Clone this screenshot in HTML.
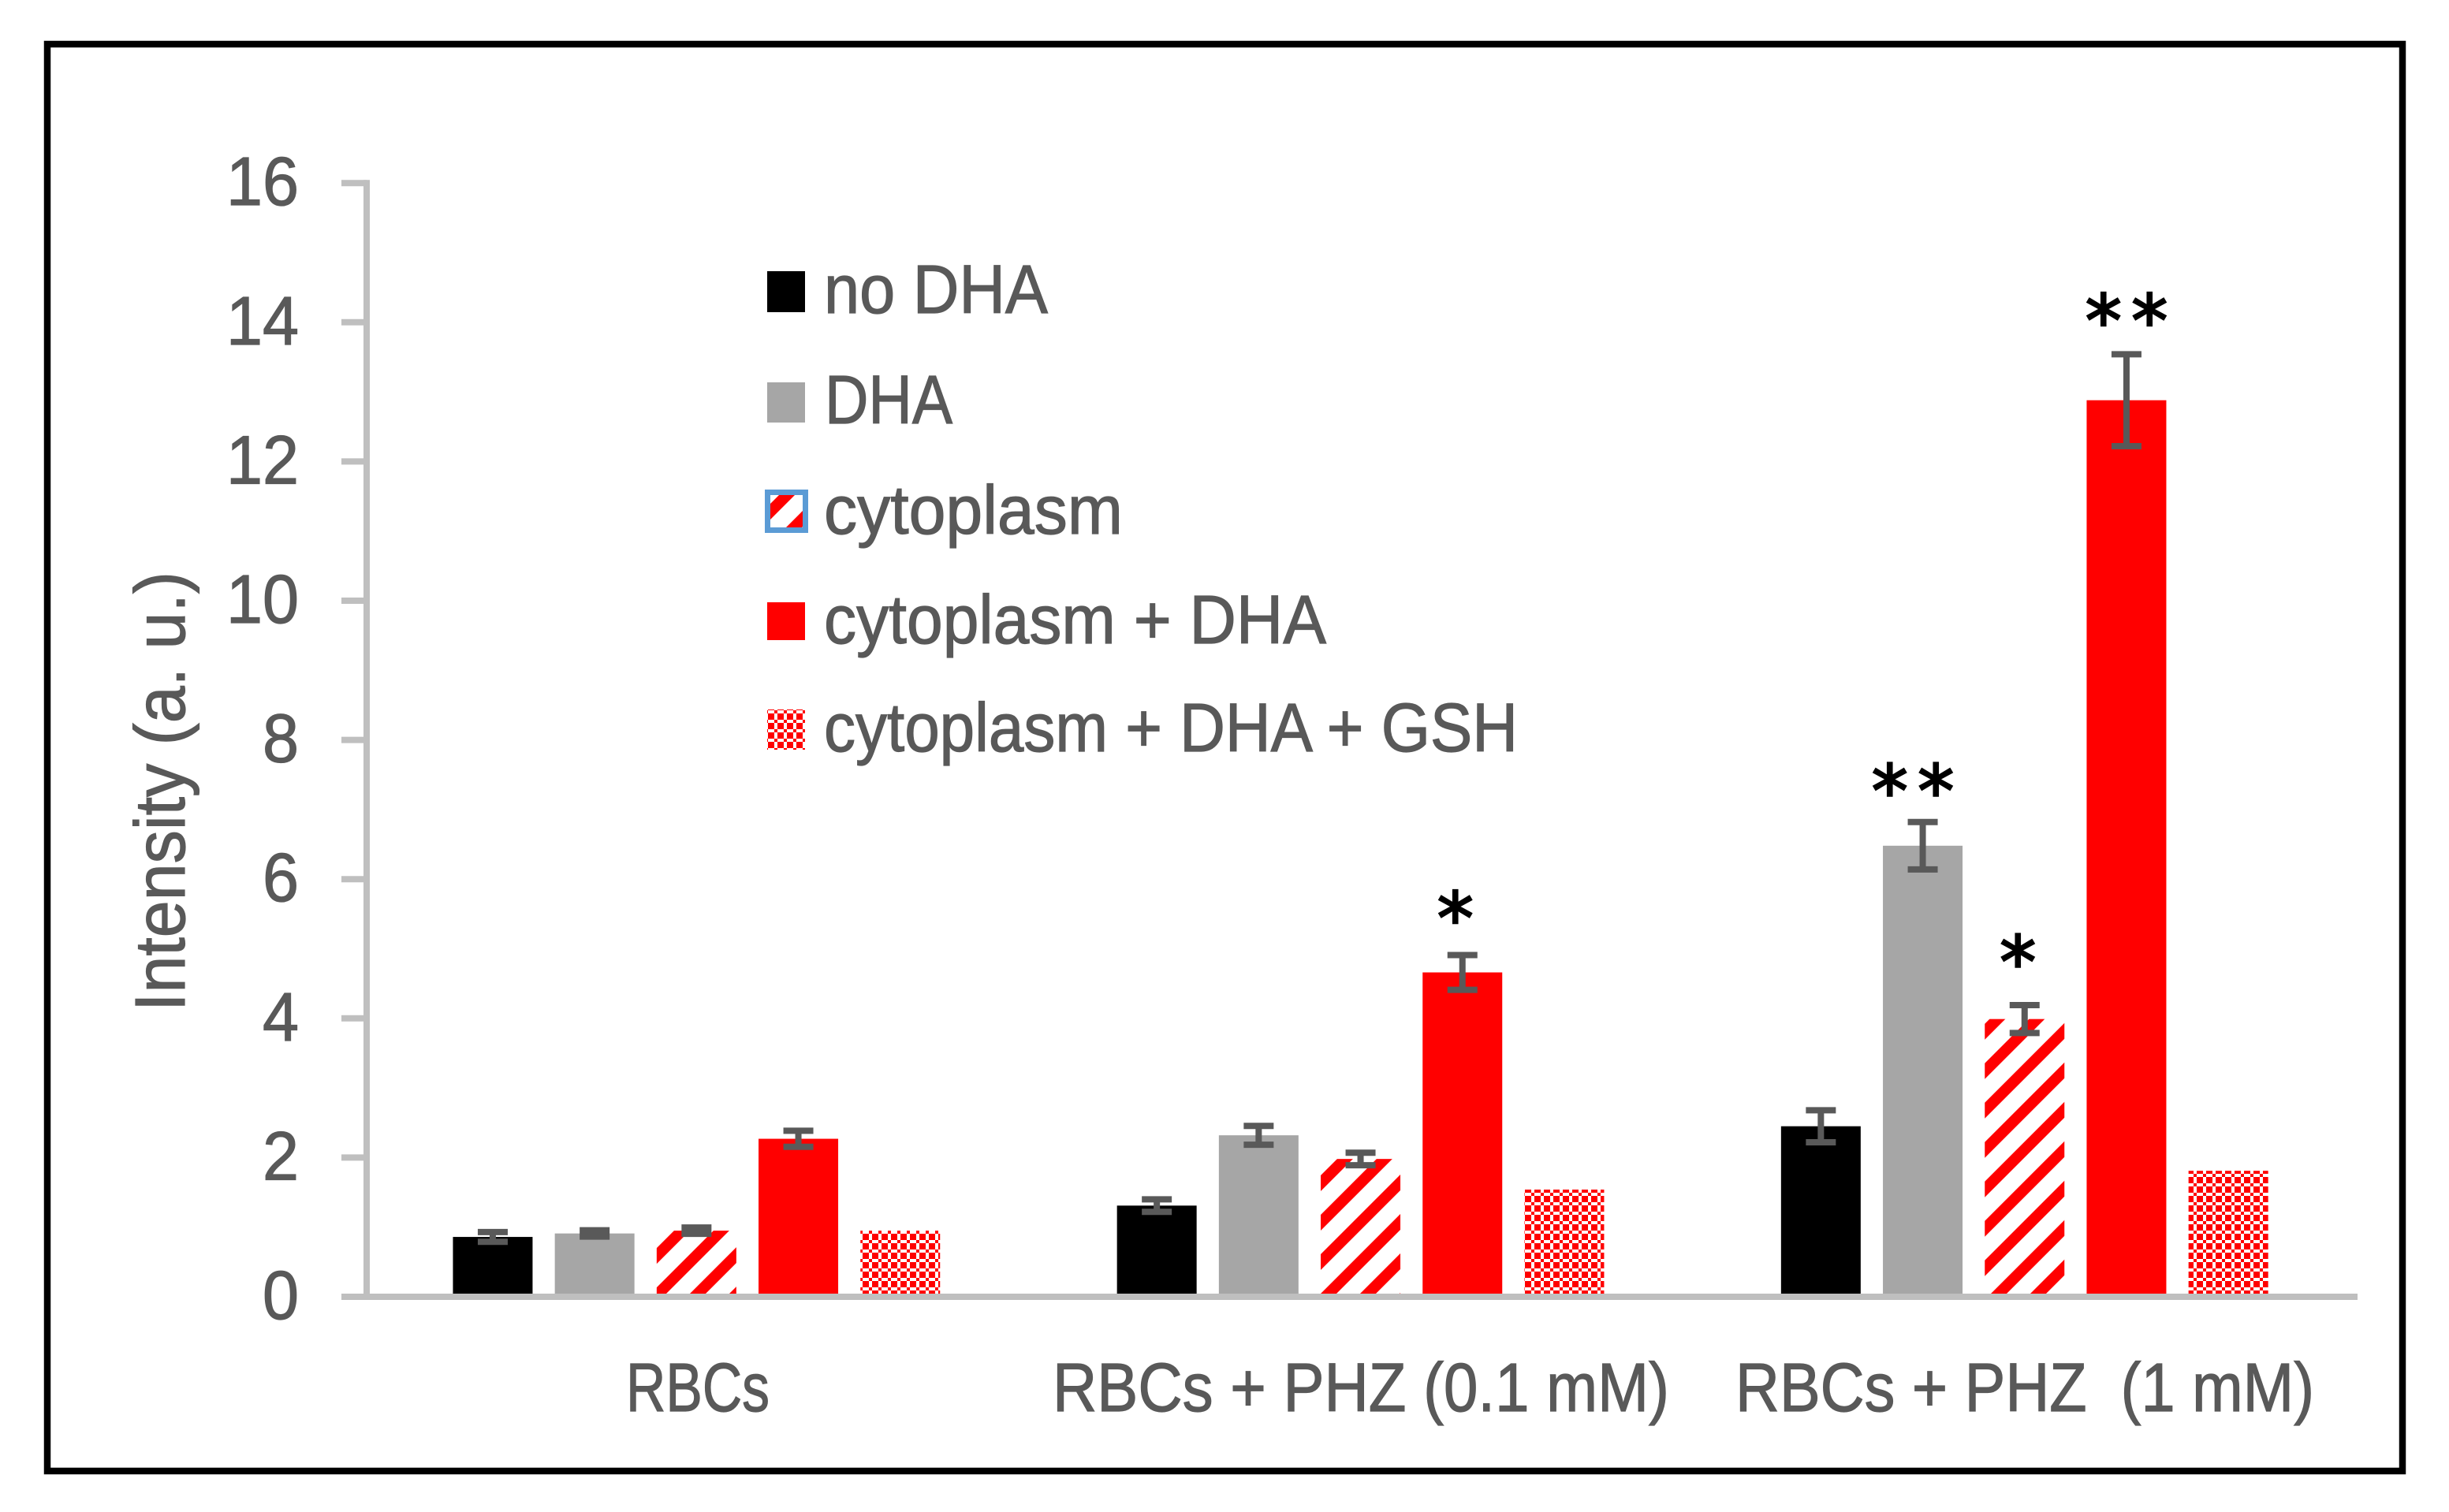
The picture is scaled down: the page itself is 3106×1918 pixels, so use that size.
<!DOCTYPE html>
<html>
<head>
<meta charset="utf-8">
<title>Intensity chart</title>
<style>
html,body{margin:0;padding:0;background:#fff;}
svg{display:block;}
text{font-family:"Liberation Sans",sans-serif;fill:#595959;stroke:#595959;stroke-width:1.2;}
</style>
</head>
<body>
<svg id="chart" xmlns="http://www.w3.org/2000/svg" width="3106" height="1918" viewBox="0 0 3106 1918">
  <defs>
    <pattern id="hatch" patternUnits="userSpaceOnUse" width="50" height="50">
      <polygon points="16,0 36,0 0,36 0,16" fill="#ff0000"/>
      <polygon points="50,16 50,36 36,50 16,50" fill="#ff0000"/>
    </pattern>
    <pattern id="check" patternUnits="userSpaceOnUse" x="2" y="5" width="12" height="12">
      <rect x="0" y="0" width="8" height="8" fill="#ff0000"/>
      <rect x="8" y="8" width="4" height="4" fill="#ff0000"/>
    </pattern>
  </defs>
  <rect x="0" y="0" width="3106" height="1918" fill="#ffffff"/>
  <rect x="60" y="56" width="2987" height="1810" fill="none" stroke="#000000" stroke-width="8.5"/>

  <g id="bars"></g>
  <g id="errors"></g>
  <g id="axes"></g>
  <g id="stars"></g>

  <text transform="translate(234,1283) rotate(-90)" font-size="90" textLength="558" lengthAdjust="spacingAndGlyphs">Intensity (a. u.)</text>

  <g>
    <g>
      <rect x="973" y="344" width="48" height="52" fill="#000000"/>
      <text x="1045" y="397" font-size="87" textLength="284" lengthAdjust="spacingAndGlyphs">no DHA</text>
    </g>
    <g>
      <rect x="973" y="485" width="48" height="51" fill="#a6a6a6"/>
      <text x="1046" y="537" font-size="87" textLength="162" lengthAdjust="spacingAndGlyphs">DHA</text>
    </g>
    <g>
      <rect x="973.5" y="624.5" width="48" height="48" fill="url(#hatch)" stroke="#5b9bd5" stroke-width="7"/>
      <text x="1045" y="677" font-size="87" textLength="379" lengthAdjust="spacingAndGlyphs">cytoplasm</text>
    </g>
    <g>
      <rect x="973" y="764" width="48" height="48" fill="#ff0000"/>
      <text x="1045" y="816" font-size="87" textLength="637" lengthAdjust="spacingAndGlyphs">cytoplasm + DHA</text>
    </g>
    <g>
      <rect x="973" y="900" width="48" height="51" fill="url(#check)"/>
      <text x="1045" y="953" font-size="87" textLength="880" lengthAdjust="spacingAndGlyphs">cytoplasm + DHA + GSH</text>
    </g>
  </g>
</svg>
<script>
// Chart data
const categories = ['RBCs', 'RBCs + PHZ (0.1 mM)', 'RBCs + PHZ  (1 mM)'];
const yTickLabels = ['0', '2', '4', '6', '8', '10', '12', '14', '16'];
const noDha = [0.86, 1.31, 2.45];
const dha = [0.91, 2.32, 6.48];
const cytoplasm = [0.95, 1.98, 3.99];
const cytoplasmDha = [2.27, 4.66, 12.88];
const cytoplasmDhaGsh = [0.95, 1.54, 1.81];
const noDhaErr = [0.07, 0.09, 0.23];
const dhaErr = [0.045, 0.135, 0.34];
const cytoplasmErr = [0.045, 0.09, 0.2];
const cytoplasmDhaErr = [0.115, 0.25, 0.66];
const starLabels = ['*', '**', '*', '**'];
const starCategory = [1, 2, 2, 2];
const starSeries = [3, 1, 2, 3];

// Layout and styling (not data)
const SVG_NS = 'http://www.w3.org/2000/svg';
const Y_ZERO = 1645, Y_UNIT = 88.3;
const X_START = 462.25, BAND = 842.2, BAR_STEP = 129.2, BAR_W = 101;
const X_END = 2990;
const seriesValues = [noDha, dha, cytoplasm, cytoplasmDha, cytoplasmDhaGsh];
const seriesErrors = [noDhaErr, dhaErr, cytoplasmErr, cytoplasmDhaErr, null];
const seriesFills = ['#000000', '#a6a6a6', 'url(#hatch)', '#ff0000', 'url(#check)'];
const seriesKeys = ['no-dha', 'dha', 'cytoplasm', 'cytoplasm-dha', 'cytoplasm-dha-gsh'];
const starDx = [-9, -12.5, -8.5, 0];
const starDy = [-58, -51, -66, -54];
const catLeft = [794, 1335, 2201];
const catWidths = [182, 782, 734];

function yScale(v) { return Y_ZERO - Y_UNIT * v; }
function groupCenter(c) { return X_START + BAND * (c + 0.5); }
function barCenter(c, s) { return groupCenter(c) + (s - 2) * BAR_STEP; }
function make(tag, attrs) {
  const el = document.createElementNS(SVG_NS, tag);
  for (const k in attrs) el.setAttribute(k, attrs[k]);
  return el;
}

const barsG = document.getElementById('bars');
const errG = document.getElementById('errors');
const axesG = document.getElementById('axes');
const starsG = document.getElementById('stars');

// Bars and error bars
seriesValues.forEach(function (values, s) {
  values.forEach(function (v, c) {
    const cx = barCenter(c, s);
    const bar = make('rect', { x: cx - BAR_W / 2, y: yScale(v), width: BAR_W, height: yScale(0) - yScale(v), fill: seriesFills[s] });
    
    
    barsG.appendChild(bar);

    const errs = seriesErrors[s];
    if (errs) {
      const hi = yScale(v + errs[c]);
      const lo = yScale(v - errs[c]);
      const eb = make('path', {
        d: 'M' + (cx - 19) + ' ' + hi + 'H' + (cx + 19) + 'M' + cx + ' ' + hi + 'V' + lo + 'M' + (cx - 19) + ' ' + lo + 'H' + (cx + 19),
        stroke: '#595959', 'stroke-width': 8, fill: 'none'
      });
      
      
      errG.appendChild(eb);
    }
  });
});

// Y axis
const yLine = make('line', { x1: 465, y1: yScale(16) - 4, x2: 465, y2: yScale(0) + 4, stroke: '#bfbfbf', 'stroke-width': 8 });


axesG.appendChild(yLine);

yTickLabels.forEach(function (label) {
  const v = Number(label);
  const tick = make('line', { x1: 433, y1: yScale(v), x2: 465, y2: yScale(v), stroke: '#bfbfbf', 'stroke-width': 8 });
  
  
  axesG.appendChild(tick);
  const t = make('text', { x: 379, y: yScale(v) + 28, 'font-size': 87, 'text-anchor': 'end', textLength: 46 * label.length, lengthAdjust: 'spacingAndGlyphs' });
  t.textContent = label;
  
  
  axesG.appendChild(t);
});

// X axis
const xLine = make('line', { x1: 433, y1: yScale(0), x2: X_END, y2: yScale(0), stroke: '#bfbfbf', 'stroke-width': 8 });


axesG.appendChild(xLine);

categories.forEach(function (label, c) {
  const t = make('text', {
    x: catLeft[c], y: 1790, 'font-size': 87,
    textLength: catWidths[c], lengthAdjust: 'spacingAndGlyphs'
  });
  t.setAttribute('xml:space', 'preserve');
  t.style.whiteSpace = 'pre';
  t.textContent = label;
  
  
  axesG.appendChild(t);
});

// Significance stars, anchored to the top of each error bar
starLabels.forEach(function (label, i) {
  const c = starCategory[i], s = starSeries[i];
  const top = yScale(seriesValues[s][c] + seriesErrors[s][c]);
  const cx = barCenter(c, s) + starDx[i];
  const cy = top + starDy[i];
  const n = label.length;
  for (let k = 0; k < n; k++) {
    const t = make('text', {
      x: cx + (k - (n - 1) / 2) * 58.5, y: cy + 44, 'font-size': 92, 'text-anchor': 'middle'
    });
    t.style.fontFamily = '"DejaVu Sans", sans-serif';
    t.style.fill = '#000000';
    t.style.stroke = '#000000';
    t.style.strokeWidth = '2.5';
    t.textContent = '*';
    
    
    starsG.appendChild(t);
  }
});
</script>
</body>
</html>
